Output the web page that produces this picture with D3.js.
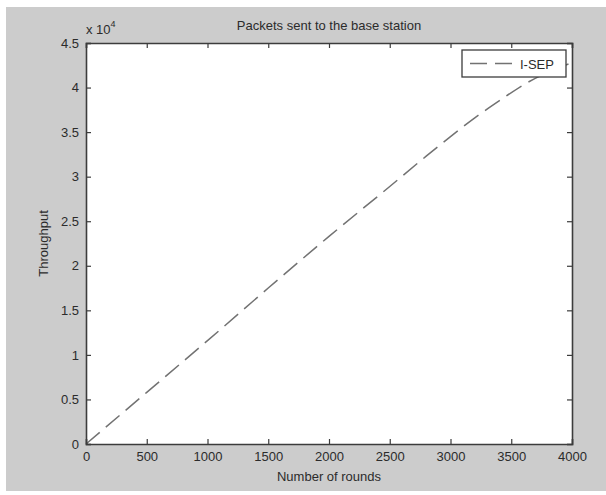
<!DOCTYPE html>
<html lang="en">
    <head>
        <meta charset="utf-8">
        <title>Packets sent to the base station</title>
        <script src="https://d3js.org/d3.v7.min.js"></script>
        <style>
            body { margin: 0; background: #ffffff; }
            text { font-family: "Liberation Sans", Arial, sans-serif; fill: #2b2b2b; }
        </style>
    </head>
    <body>
        <div id="dataviz"></div>
        <script>
            var rounds = [0, 500, 1000, 1500, 2000, 2500, 2800, 3000, 3200, 3400, 3600, 3800, 4000];
            var throughput = [0, 5800, 11600, 17500, 23300, 28900, 32300, 34500, 36600, 38500, 40300, 41700, 42800];
            var xTicks = [0, 500, 1000, 1500, 2000, 2500, 3000, 3500, 4000];
            var yTicks = [0, 5000, 10000, 15000, 20000, 25000, 30000, 35000, 40000, 45000];
            var seriesName = "I-SEP";

            var W = 606, H = 495;
            var margin = {top: 43, right: 34, bottom: 51, left: 86},
                width = W - margin.left - margin.right,
                height = H - margin.top - margin.bottom;

            var root = d3.select("#dataviz")
                        .append("svg")
                        .attr("width", W)
                        .attr("height", H);

            // matlab grey figure
            root.append("rect")
                .attr("x", 6).attr("y", 7)
                .attr("width", W - 6).attr("height", 484)
                .attr("fill", "#cccccc");

            var svg = root.append("g")
                        .attr("transform", "translate(" + margin.left + "," + margin.top + ")");

            svg.append("rect")
                .attr("width", width).attr("height", height)
                .attr("fill", "#ffffff");

            var x = d3.scaleLinear().domain([0, 4000]).range([0, width]);
            var y = d3.scaleLinear().domain([0, 45000]).range([height, 0]);

            var line = d3.line()
                        .x(function(d, i) { return x(rounds[i]); })
                        .y(function(d) { return y(d); })
                        .curve(d3.curveMonotoneX);

            svg.append("path")
                .datum(throughput)
                .attr("d", line)
                .attr("fill", "none")
                .attr("stroke", "#727272")
                .attr("stroke-width", 1.5)
                .attr("stroke-dasharray", "18,8");

            // axes, ticks pointing inwards on all four sides
            var tickLen = 5;
            var axColor = "#3c3c3c";

            var axB = svg.append("g")
                .attr("transform", "translate(0," + height + ")")
                .call(d3.axisBottom(x).tickValues(xTicks).tickSize(-tickLen).tickPadding(8)
                        .tickFormat(function(d) { return d; }));
            var axT = svg.append("g")
                .call(d3.axisTop(x).tickValues(xTicks).tickSize(-tickLen).tickFormat(""));
            var axL = svg.append("g")
                .call(d3.axisLeft(y).tickValues(yTicks).tickSize(-tickLen).tickPadding(7)
                        .tickFormat(function(d) { return d / 10000; }));
            var axR = svg.append("g")
                .attr("transform", "translate(" + width + ",0)")
                .call(d3.axisRight(y).tickValues(yTicks).tickSize(-tickLen).tickFormat(""));

            [axB, axT, axL, axR].forEach(function(g) {
                g.select(".domain").attr("stroke", axColor).attr("stroke-width", 1.6);
                g.selectAll(".tick line").attr("stroke", axColor).attr("stroke-width", 1.2);
                g.selectAll(".tick text")
                    .style("font-family", "'Liberation Sans', Arial, sans-serif")
                    .style("font-size", "13px")
                    .attr("fill", "#2b2b2b");
            });

            // exponent label
            var expo = svg.append("text").attr("x", 0).attr("y", -9).style("font-size", "13px");
            expo.append("tspan").text("x 10");
            expo.append("tspan").attr("dy", -7).style("font-size", "9px").text("4");

            svg.append("text")
                .attr("x", width / 2).attr("y", -13)
                .attr("text-anchor", "middle")
                .style("font-size", "13px")
                .text("Packets sent to the base station");

            svg.append("text")
                .attr("x", width / 2).attr("y", height + 37)
                .attr("text-anchor", "middle")
                .style("font-size", "13px")
                .text("Number of rounds");

            svg.append("text")
                .attr("transform", "translate(-38," + (height / 2) + ") rotate(-90)")
                .attr("text-anchor", "middle")
                .style("font-size", "13px")
                .text("Throughput");

            // legend
            var lg = svg.append("g").attr("transform", "translate(" + (width - 110) + ",7)");
            lg.append("rect")
                .attr("width", 104).attr("height", 27)
                .attr("fill", "#ffffff")
                .attr("stroke", axColor).attr("stroke-width", 1.3);
            lg.append("line")
                .attr("x1", 8).attr("x2", 51).attr("y1", 13.5).attr("y2", 13.5)
                .attr("stroke", "#727272").attr("stroke-width", 1.5)
                .attr("stroke-dasharray", "17,8");
            lg.append("text")
                .attr("x", 58).attr("y", 18.5)
                .style("font-size", "13px")
                .text(seriesName);
        </script>
    </body>
</html>
